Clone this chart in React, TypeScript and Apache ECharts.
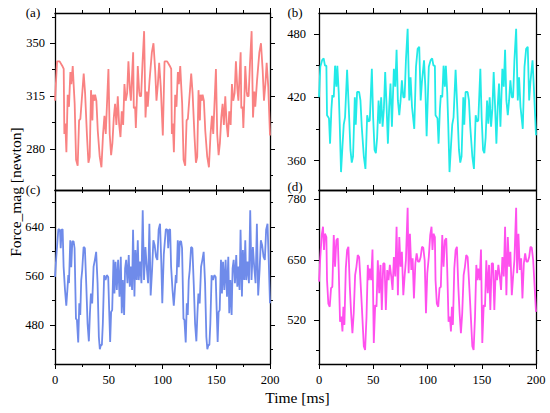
import React, { useEffect, useRef } from "react";
import * as echarts from "echarts";

const FONT = "'Liberation Serif', 'Times New Roman', serif";

const panelLabels = ["(a)", "(b)", "(c)", "(d)"];
const lineColors = ["#F98282", "#22EAE8", "#6F8BEA", "#FF50EE"];
const yMin = [253, 332, 416, 426];
const yMax = [370, 500, 700, 800];
const yMajorTicks = [
  [280, 315, 350],
  [360, 420, 480],
  [480, 560, 640],
  [520, 650, 780],
];
const yMinorTicks = [
  [262.5, 297.5, 332.5, 367.5],
  [390, 450],
  [440, 520, 600, 680],
  [455, 585, 715],
];

const forceA: [number, number][] = [
  [0,312],[1.9,338],[4.3,338],[6.8,335],[8.1,333],[8.7,290],[9.6,297],[10.6,278],[11.8,316],[13,308],
  [14.3,331],[15.2,323],[16.5,335],[17.4,322],[18.3,310],[19.6,273],[21.1,269],[22.4,299],[23.6,300],[26.7,330],
  [28,317],[29.8,288],[31.1,271],[32.3,275],[33.5,319],[34.8,299],[35.4,316],[36.6,312],[37.3,316],[38.5,312],
  [39.8,292],[41.6,275],[43.2,268],[44.7,290],[46,302],[47.2,290],[47.8,290],[49.7,333],[50.9,290],[52.2,276],
  [53.4,284],[54.7,301],[55.9,310],[57.1,296],[58.4,315],[59.6,297],[60.9,288],[62.1,305],[63.4,296],[64.6,323],
  [65.8,312],[67.1,317],[68.3,338],[69.6,320],[70.6,312],[72.7,344],[73.3,307],[74.5,308],[75.2,294],[76.1,312],
  [77,335],[78.3,318],[78.9,315],[80.1,315],[81.4,337],[82.9,358],[84.2,301],[85.4,318],[86.3,308],[87.9,325],
  [90.1,344],[91.6,350],[93.2,332],[94.4,312],[95.7,323],[96.9,337],[98.4,321],[100.3,289],
  [101.9,338],[104.3,338],[106.8,335],[108.1,333],[108.7,290],[109.6,297],[110.6,278],[111.8,316],[113,308],
  [114.3,331],[115.2,323],[116.5,335],[117.4,322],[118.3,310],[119.6,273],[121.1,269],[122.4,299],[123.6,300],[126.7,330],
  [128,317],[129.8,288],[131.1,271],[132.3,275],[133.5,319],[134.8,299],[135.4,316],[136.6,312],[137.3,316],[138.5,312],
  [139.8,292],[141.6,275],[143.2,268],[144.7,290],[146,302],[147.2,290],[147.8,290],[149.7,333],[150.9,290],[152.2,276],
  [153.4,284],[154.7,301],[155.9,310],[157.1,296],[158.4,315],[159.6,297],[160.9,288],[162.1,305],[163.4,296],[164.6,323],
  [165.8,312],[167.1,317],[168.3,338],[169.6,320],[170.6,312],[172.7,344],[173.3,307],[174.5,308],[175.2,294],[176.1,312],
  [177,335],[178.3,318],[178.9,315],[180.1,315],[181.4,337],[182.9,358],[184.2,301],[185.4,318],[186.3,308],[187.9,325],
  [190.1,344],[191.6,350],[193.2,332],[194.4,312],[195.7,323],[196.9,337],[198.4,321],[200,289],
];

const forceB: [number, number][] = [
  [0,420],[1.2,449],[2.8,455],[4.3,457],[5.5,450],[6.8,450],[7.4,403],[9.2,400],[10.2,376],[11.4,408],
  [12.3,422],[13.6,420],[14.8,450],[16,430],[16.9,450],[18.2,424],[19.1,395],[20.3,349],[21.6,373],[22.8,394],
  [24,401],[25.9,446],[27.4,411],[29,370],[30.2,358],[31.4,364],[33,420],[33.9,394],[35.1,425],[37,425],
  [38.2,417],[39.4,392],[41.3,364],[42.8,352],[44.4,403],[45.6,397],[46.8,398],[48.7,447],[49.9,401],[51.2,370],
  [52.4,367],[53.6,382],[54.9,417],[56.1,395],[57.3,420],[58.6,392],[59.8,409],[61,444],[62.3,411],[63.5,376],
  [64.7,411],[65.9,433],[67.2,392],[69,447],[70.3,430],[71.5,465],[72.7,417],[74,403],[75.2,417],[76.4,436],
  [77.7,420],[78.9,420],[80.1,455],[81.7,485],[83.2,417],[84.4,439],[85.7,411],[87.8,390],[89.4,449],[90.9,466],
  [92.4,468],[93.7,417],[94.9,435],[96.8,455],[98,430],[99.2,383],
  [101.2,449],[102.8,455],[104.3,457],[105.5,450],[106.8,450],[107.4,403],[109.2,400],[110.2,376],[111.4,408],
  [112.3,422],[113.6,420],[114.8,450],[116,430],[116.9,450],[118.2,424],[119.1,395],[120.3,349],[121.6,373],[122.8,394],
  [124,401],[125.9,446],[127.4,411],[129,370],[130.2,358],[131.4,364],[133,420],[133.9,394],[135.1,425],[137,425],
  [138.2,417],[139.4,392],[141.3,364],[142.8,352],[144.4,403],[145.6,397],[146.8,398],[148.7,447],[149.9,401],[151.2,370],
  [152.4,367],[153.6,382],[154.9,417],[156.1,395],[157.3,420],[158.6,392],[159.8,409],[161,444],[162.3,411],[163.5,376],
  [164.7,411],[165.9,433],[167.2,392],[169,447],[170.3,430],[171.5,465],[172.7,417],[174,403],[175.2,417],[176.4,436],
  [177.7,420],[178.9,420],[180.1,455],[181.7,485],[183.2,417],[184.4,439],[185.7,411],[187.8,390],[189.4,449],[190.9,466],
  [192.4,468],[193.7,417],[194.9,435],[196.8,455],[198,430],[200,384],
];

const forceC: [number, number][] = [
  [0,558],[1.2,591],[3.1,636],[4.6,635],[5.3,605],[6.2,635],[7.1,636],[8,575],[9.3,537],[10.5,511],
  [11.4,534],[12.4,561],[13,548],[14.2,618],[15.1,574],[16.1,616],[17.3,616],[18.2,605],[19.5,490],[20.4,488],
  [21.6,451],[22.6,515],[23.5,496],[24.4,553],[25.3,569],[26.6,607],[27.8,605],[29.1,545],[30.3,482],[31.5,453],
  [32.5,499],[33.4,531],[34.6,515],[35.9,575],[37.1,586],[38.3,599],[39.6,548],[40.8,460],[41.7,440],[42.7,447],
  [43.6,447],[44.5,482],[45.7,561],[47,553],[48.2,561],[49.5,558],[50.4,504],[51.3,452],[52.2,501],[53.2,504],
  [54.4,586],[55.3,531],[56.3,583],[57.5,537],[58.7,586],[60,526],[61.2,591],[62.1,499],[63.1,553],[64.3,496],
  [65.2,572],[66.2,586],[67.4,548],[68.6,594],[69.6,542],[70.5,575],[71.7,537],[72.6,635],[73.9,526],[74.8,602],
  [76,553],[77,618],[77.9,553],[79.1,583],[80.4,548],[81.6,667],[82.8,553],[84.1,607],[85.3,575],[86.6,548],
  [87.8,645],[89,528],[90.3,569],[91.5,618],[92.7,610],[94,591],[95.2,586],[96.4,635],[97.7,645],[98.9,580],[99.8,515],
  [101.2,595],[103.1,636],[104.6,635],[105.3,605],[106.2,635],[107.1,636],[108,575],[109.3,537],[110.5,511],
  [111.4,534],[112.4,561],[113,548],[114.2,618],[115.1,574],[116.1,616],[117.3,616],[118.2,605],[119.5,490],[120.4,488],
  [121.6,451],[122.6,515],[123.5,496],[124.4,553],[125.3,569],[126.6,607],[127.8,605],[129.1,545],[130.3,482],[131.5,453],
  [132.5,499],[133.4,531],[134.6,515],[135.9,575],[137.1,586],[138.3,599],[139.6,548],[140.8,460],[141.7,440],[142.7,447],
  [143.6,447],[144.5,482],[145.7,561],[147,553],[148.2,561],[149.5,558],[150.4,504],[151.3,452],[152.2,501],[153.2,504],
  [154.4,586],[155.3,531],[156.3,583],[157.5,537],[158.7,586],[160,526],[161.2,591],[162.1,499],[163.1,553],[164.3,496],
  [165.2,572],[166.2,586],[167.4,548],[168.6,594],[169.6,542],[170.5,575],[171.7,537],[172.6,635],[173.9,526],[174.8,602],
  [176,553],[177,618],[177.9,553],[179.1,583],[180.4,548],[181.6,667],[182.8,553],[184.1,607],[185.3,575],[186.6,548],
  [187.8,645],[189,528],[190.3,569],[191.5,618],[192.7,610],[194,591],[195.2,586],[196.4,635],[197.7,645],[198.9,580],[200,515],
];

const forceD: [number, number][] = [
  [0,603],[1.2,656],[2.5,703],[3.7,721],[4.6,671],[5.5,706],[6.8,699],[7.4,606],[8.6,556],[9.9,549],
  [11.1,589],[12.3,592],[13.6,703],[14.8,635],[16,692],[17.3,696],[18.2,628],[19.4,517],[20.6,528],[21.6,496],
  [22.5,549],[23.4,510],[24.7,631],[25.9,671],[27.1,678],[28.4,592],[29.6,535],[30.8,492],[32,535],[33.3,617],
  [34.5,635],[35.7,660],[37,656],[38.2,606],[39.4,553],[41.3,464],[42.5,456],[43.8,528],[45,639],[45.9,606],
  [46.8,631],[48.1,606],[49.3,672],[50.5,471],[51.8,553],[53,549],[54.2,649],[55.5,578],[56.7,639],[57.9,542],
  [59.2,642],[60.4,642],[61.6,542],[62.9,628],[64.1,606],[65.3,639],[66.6,614],[67.8,585],[69,656],[70.3,614],
  [71.5,721],[72.7,574],[74,699],[75.2,635],[76.4,667],[77.7,574],[78.9,614],[80.1,649],[81.7,762],[82.6,621],
  [83.8,706],[85.1,628],[86.3,653],[87.5,567],[88.8,642],[90,664],[91.2,646],[92.4,646],[93.7,656],[94.9,678],
  [96.1,676],[97.4,649],[98.6,535],[99.8,621],
  [101.2,656],[102.5,703],[103.7,721],[104.6,671],[105.5,706],[106.8,699],[107.4,606],[108.6,556],[109.9,549],
  [111.1,589],[112.3,592],[113.6,703],[114.8,635],[116,692],[117.3,696],[118.2,628],[119.4,517],[120.6,528],[121.6,496],
  [122.5,549],[123.4,510],[124.7,631],[125.9,671],[127.1,678],[128.4,592],[129.6,535],[130.8,492],[132,535],[133.3,617],
  [134.5,635],[135.7,660],[137,656],[138.2,606],[139.4,553],[141.3,464],[142.5,456],[143.8,528],[145,639],[145.9,606],
  [146.8,631],[148.1,606],[149.3,672],[150.5,471],[151.8,553],[153,549],[154.2,649],[155.5,578],[156.7,639],[157.9,542],
  [159.2,642],[160.4,642],[161.6,542],[162.9,628],[164.1,606],[165.3,639],[166.6,614],[167.8,585],[169,656],[170.3,614],
  [171.5,721],[172.7,574],[174,699],[175.2,635],[176.4,667],[177.7,574],[178.9,614],[180.1,649],[181.7,762],[182.6,621],
  [183.8,706],[185.1,628],[186.3,653],[187.5,567],[188.8,642],[190,664],[191.2,646],[192.4,646],[193.7,656],[194.9,678],
  [196.1,676],[197.4,649],[200,538],
];

const panelData = [forceA, forceB, forceC, forceD];

// layout of the four plot boxes (px)
const grids = [
  { left: 55, top: 13, width: 215, height: 177 },
  { left: 319, top: 13, width: 217, height: 177 },
  { left: 55, top: 190, width: 215, height: 174 },
  { left: 319, top: 190, width: 217, height: 174 },
];
const labelPos = [
  [33, 12],
  [295, 12],
  [33, 189],
  [295, 186],
];
const yLabelMargin = [10, 13, 11, 13];

export default function App() {
  const ref = useRef<HTMLDivElement>(null);
  useEffect(() => {
    document.body.style.margin = "0";
    if (!ref.current) return;
    const chart = echarts.init(ref.current, undefined, { renderer: "svg" });
    const black = "#000";
    const xAxis: any[] = [];
    const yAxis: any[] = [];
    const series: any[] = [];
    grids.forEach((g, i) => {
      ["bottom", "top"].forEach((pos) => {
        xAxis.push({
          gridIndex: i,
          type: "value",
          position: pos,
          min: 0,
          max: 200,
          interval: 50,
          axisLine: { show: true, onZero: false, lineStyle: { color: black, width: 1.3 } },
          axisTick: { show: true, inside: false, length: 5, lineStyle: { color: black, width: 1 } },
          minorTick: { show: true, splitNumber: 2, length: 3, lineStyle: { color: black, width: 1 } },
          axisLabel: {
            show: pos === "bottom" && i >= 2,
            fontFamily: FONT,
            fontSize: 12.5,
            color: black,
            margin: 9,
          },
          splitLine: { show: false },
          minorSplitLine: { show: false },
        });
      });
      ["left", "right"].forEach((pos) => {
        yAxis.push({
          gridIndex: i,
          type: "value",
          position: pos,
          min: yMin[i],
          max: yMax[i],
          axisLine: { show: true, onZero: false, lineStyle: { color: black, width: 1.3 } },
          axisTick: {
            show: true,
            inside: false,
            length: 5,
            customValues: yMajorTicks[i],
            lineStyle: { color: black, width: 1 },
          },
          axisLabel: {
            show: pos === "left",
            customValues: yMajorTicks[i],
            fontFamily: FONT,
            fontSize: 12.5,
            color: black,
            margin: yLabelMargin[i],
          },
          splitLine: { show: false },
        });
        yAxis.push({
          gridIndex: i,
          type: "value",
          position: pos,
          min: yMin[i],
          max: yMax[i],
          axisLine: { show: false, onZero: false },
          axisTick: {
            show: true,
            inside: false,
            length: 3,
            customValues: yMinorTicks[i],
            lineStyle: { color: black, width: 1 },
          },
          axisLabel: { show: false, customValues: yMinorTicks[i] },
          splitLine: { show: false },
        });
      });
      series.push({
        type: "line",
        xAxisIndex: 2 * i,
        yAxisIndex: 4 * i,
        data: panelData[i],
        showSymbol: false,
        symbol: "none",
        lineStyle: { color: lineColors[i], width: 1.8 },
        itemStyle: { color: lineColors[i] },
        silent: true,
        clip: true,
      });
    });

    const graphic: any[] = panelLabels.map((t, i) => ({
      type: "text",
      x: labelPos[i][0],
      y: labelPos[i][1],
      style: {
        text: t,
        fontFamily: FONT,
        fontSize: 13,
        fill: black,
        textAlign: "center",
        textVerticalAlign: "middle",
      },
    }));
    graphic.push({
      type: "text",
      x: 15.5,
      y: 192,
      rotation: Math.PI / 2,
      style: {
        text: "Force_mag [newton]",
        fontFamily: FONT,
        fontSize: 15.5,
        fill: black,
        textAlign: "center",
        textVerticalAlign: "middle",
      },
    });
    graphic.push({
      type: "text",
      x: 297.5,
      y: 397,
      style: {
        text: "Time [ms]",
        fontFamily: FONT,
        fontSize: 15.5,
        fill: black,
        textAlign: "center",
        textVerticalAlign: "middle",
      },
    });

    chart.setOption({
      animation: false,
      backgroundColor: "#fff",
      grid: grids.map((g) => ({ ...g, containLabel: false, outerBoundsMode: "none" })),
      xAxis,
      yAxis,
      series,
      graphic,
    });
    return () => chart.dispose();
  }, []);
  return <div ref={ref} style={{ width: 550, height: 413 }} />;
}
